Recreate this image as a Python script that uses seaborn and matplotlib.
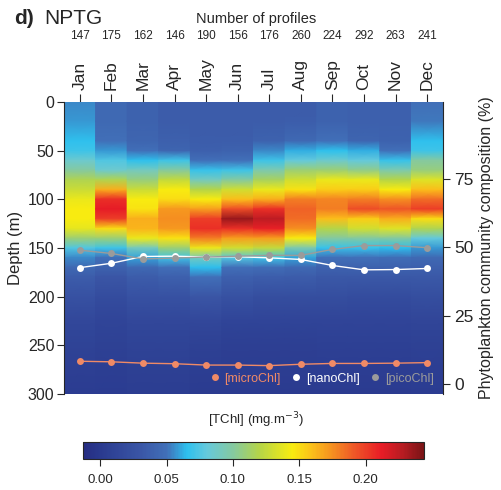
import numpy as np
import pandas as pd
import matplotlib
matplotlib.use("Agg")
import matplotlib.pyplot as plt
import seaborn as sns
from matplotlib.colors import LinearSegmentedColormap, Normalize
from matplotlib.lines import Line2D
import matplotlib.transforms as mtransforms

# ---------------- data ----------------
months = ["Jan", "Feb", "Mar", "Apr", "May", "Jun", "Jul", "Aug", "Sep", "Oct", "Nov", "Dec"]
n_profiles = [147, 175, 162, 146, 190, 156, 176, 260, 224, 292, 263, 241]

depths = [0, 20, 40, 50, 60, 70, 80, 90, 100, 110, 120, 130, 140, 150, 160, 170, 180, 200, 225, 250, 300]

tchl_jan = [0.055, 0.058, 0.066, 0.070, 0.085, 0.100, 0.118, 0.128, 0.140, 0.145, 0.145, 0.138, 0.110, 0.075, 0.055, 0.045, 0.035, 0.025, 0.015, 0.010, 0.003]
tchl_feb = [0.045, 0.045, 0.050, 0.058, 0.075, 0.085, 0.118, 0.165, 0.205, 0.212, 0.200, 0.150, 0.110, 0.070, 0.050, 0.040, 0.030, 0.020, 0.012, 0.008, 0.003]
tchl_mar = [0.040, 0.040, 0.042, 0.050, 0.066, 0.090, 0.108, 0.128, 0.145, 0.148, 0.165, 0.163, 0.140, 0.090, 0.060, 0.045, 0.035, 0.025, 0.015, 0.010, 0.004]
tchl_apr = [0.035, 0.035, 0.038, 0.042, 0.070, 0.100, 0.125, 0.145, 0.150, 0.172, 0.175, 0.172, 0.148, 0.110, 0.070, 0.050, 0.038, 0.025, 0.015, 0.010, 0.004]
tchl_may = [0.035, 0.035, 0.036, 0.038, 0.050, 0.068, 0.090, 0.120, 0.145, 0.170, 0.200, 0.205, 0.180, 0.140, 0.090, 0.065, 0.050, 0.030, 0.015, 0.008, 0.002]
tchl_jun = [0.035, 0.035, 0.036, 0.040, 0.050, 0.070, 0.100, 0.130, 0.160, 0.195, 0.235, 0.205, 0.170, 0.130, 0.075, 0.050, 0.038, 0.025, 0.012, 0.006, 0.002]
tchl_jul = [0.035, 0.035, 0.040, 0.055, 0.070, 0.095, 0.115, 0.140, 0.165, 0.205, 0.225, 0.210, 0.170, 0.125, 0.070, 0.048, 0.036, 0.022, 0.012, 0.006, 0.002]
tchl_aug = [0.035, 0.036, 0.045, 0.062, 0.080, 0.110, 0.130, 0.148, 0.180, 0.188, 0.185, 0.175, 0.145, 0.095, 0.060, 0.045, 0.035, 0.022, 0.012, 0.006, 0.002]
tchl_sep = [0.040, 0.040, 0.050, 0.066, 0.085, 0.110, 0.140, 0.155, 0.178, 0.180, 0.160, 0.120, 0.100, 0.068, 0.050, 0.040, 0.032, 0.022, 0.012, 0.007, 0.002]
tchl_oct = [0.038, 0.038, 0.042, 0.062, 0.080, 0.105, 0.140, 0.155, 0.180, 0.195, 0.155, 0.130, 0.100, 0.068, 0.050, 0.040, 0.032, 0.020, 0.012, 0.007, 0.002]
tchl_nov = [0.038, 0.038, 0.040, 0.050, 0.068, 0.095, 0.120, 0.145, 0.175, 0.192, 0.165, 0.135, 0.100, 0.065, 0.048, 0.040, 0.032, 0.020, 0.012, 0.007, 0.002]
tchl_dec = [0.050, 0.052, 0.066, 0.070, 0.100, 0.108, 0.135, 0.160, 0.185, 0.200, 0.150, 0.118, 0.080, 0.058, 0.045, 0.038, 0.032, 0.022, 0.013, 0.008, 0.003]

micro_pct = [8.3, 8.1, 7.6, 7.4, 6.9, 6.9, 6.7, 7.2, 7.5, 7.5, 7.6, 7.8]
nano_pct = [42.6, 44.2, 46.7, 46.8, 46.5, 46.6, 46.2, 45.6, 43.4, 41.8, 41.9, 42.3]
pico_pct = [49.0, 47.8, 45.8, 46.1, 46.5, 46.8, 47.1, 47.1, 49.3, 50.7, 50.7, 49.9]

group_names = ["[microChl]", "[nanoChl]", "[picoChl]"]
group_colors = ["#f08a66", "#ffffff", "#9b9b9b"]

cbar_ticks = [0.00, 0.05, 0.10, 0.15, 0.20]
vmin, vmax = -0.013, 0.244

# ---------------- style ----------------
sns.set_style("ticks")
plt.rcParams["font.family"] = ["Liberation Sans", "DejaVu Sans"]
plt.rcParams["axes.linewidth"] = 0.8

cmap_stops = [(-0.013, "#262d82"), (0.000, "#2a3a8f"), (0.030, "#3a56a6"), (0.050, "#4170b8"),
              (0.065, "#2dc0ee"), (0.080, "#65c9dc"), (0.100, "#85c9a0"), (0.120, "#b5d548"),
              (0.145, "#f8ec10"), (0.160, "#fbbf1a"), (0.175, "#f59020"), (0.190, "#ef5d27"),
              (0.212, "#e81c26"), (0.228, "#b81c22"), (0.244, "#7a1416")]
cmap = LinearSegmentedColormap.from_list(
    "tchl", [((v - vmin) / (vmax - vmin), c) for v, c in cmap_stops])
norm = Normalize(vmin=vmin, vmax=vmax)

fig = plt.figure(figsize=(5.01, 4.90), dpi=100)
ax = fig.add_axes([64 / 501, 1 - 394 / 490, 379 / 501, 292 / 490])

profiles = [tchl_jan, tchl_feb, tchl_mar, tchl_apr, tchl_may, tchl_jun,
            tchl_jul, tchl_aug, tchl_sep, tchl_oct, tchl_nov, tchl_dec]
d = np.array(depths, dtype=float)
for i, prof in enumerate(profiles):
    x = i + 1
    X = np.column_stack([np.full_like(d, x - 0.5), np.full_like(d, x + 0.5)])
    Y = np.column_stack([d, d])
    C = np.column_stack([prof, prof])
    ax.pcolormesh(X, Y, C, shading="gouraud", cmap=cmap, norm=norm, rasterized=True)

ax.set_xlim(0.5, 12.5)
ax.set_ylim(300, 0)
ax.set_yticks([0, 50, 100, 150, 200, 250, 300])
ax.tick_params(axis="y", labelsize=11.5, length=5, width=0.8, direction="out", pad=2)
ax.set_ylabel("Depth (m)", fontsize=12, labelpad=3)
ax.xaxis.tick_top()
ax.set_xticks(range(1, 13))
ax.set_xticklabels(months, rotation=90, fontsize=12.5)
ax.tick_params(axis="x", length=6, width=0.8, direction="out", pad=3)
for s in ax.spines.values():
    s.set_visible(False)
ax.spines["left"].set_visible(True)

# ---------------- composition lines ----------------
ax2 = ax.twinx()
df = pd.DataFrame({
    "month": list(range(1, 13)) * 3,
    "pct": micro_pct + nano_pct + pico_pct,
    "group": [group_names[0]] * 12 + [group_names[1]] * 12 + [group_names[2]] * 12,
})
sns.lineplot(data=df, x="month", y="pct", hue="group", hue_order=group_names,
             palette=dict(zip(group_names, group_colors)), marker="o", markersize=5,
             markeredgewidth=0, linewidth=1.0, ax=ax2, legend=False)
ax2.set_ylim(-3.7, 103.3)
ax2.set_yticks([0, 25, 50, 75])
ax2.tick_params(axis="y", labelsize=12.5, length=5, width=0.8, direction="out", pad=3)
ax2.set_ylabel("Phytoplankton community composition (%)", fontsize=11.5, labelpad=4)
ax2.set_xlabel("")
ax2.set_xlim(0.5, 12.5)
for s in ax2.spines.values():
    s.set_visible(False)
ax2.spines["right"].set_visible(True)

handles = [Line2D([], [], linestyle="none", marker="o", markersize=5, markeredgewidth=0,
                  color=c) for c in group_colors]
leg = ax2.legend(handles, group_names, loc="lower right", ncol=3, frameon=False,
                 fontsize=9, handletextpad=0.3, columnspacing=0.7, handlelength=1.0,
                 borderaxespad=0.35, bbox_to_anchor=(1.0, 0.0))
for t, c in zip(leg.get_texts(), group_colors):
    t.set_color(c)

# ---------------- top annotations ----------------
trans = mtransforms.blended_transform_factory(ax.transData, fig.transFigure)
for i, n in enumerate(n_profiles):
    ax.text(i + 1, 1 - 36 / 490, str(n), transform=trans, ha="center", va="center", fontsize=8.5)
fig.text(256 / 501, 1 - 19 / 490, "Number of profiles", ha="center", va="center", fontsize=10.5)
fig.text(14 / 501, 1 - 18 / 490, "d)", ha="left", va="center", fontsize=15, fontweight="bold")
fig.text(44 / 501, 1 - 18 / 490, "NPTG", ha="left", va="center", fontsize=15)

# ---------------- colorbar ----------------
cax = fig.add_axes([83 / 501, 1 - 459 / 490, 341 / 501, 17 / 490])
sm = matplotlib.cm.ScalarMappable(norm=norm, cmap=cmap)
cb = fig.colorbar(sm, cax=cax, orientation="horizontal", ticks=cbar_ticks)
cb.ax.set_xticklabels([f"{t:.2f}" for t in cbar_ticks])
cb.ax.tick_params(labelsize=9.5, length=5, width=0.8, pad=6)
cb.outline.set_linewidth(0.8)
fig.text(256 / 501, 1 - 420 / 490, "[TChl] (mg.m$^{-3}$)", ha="center", va="center", fontsize=9.5)

fig.savefig("out.png", dpi=100)
